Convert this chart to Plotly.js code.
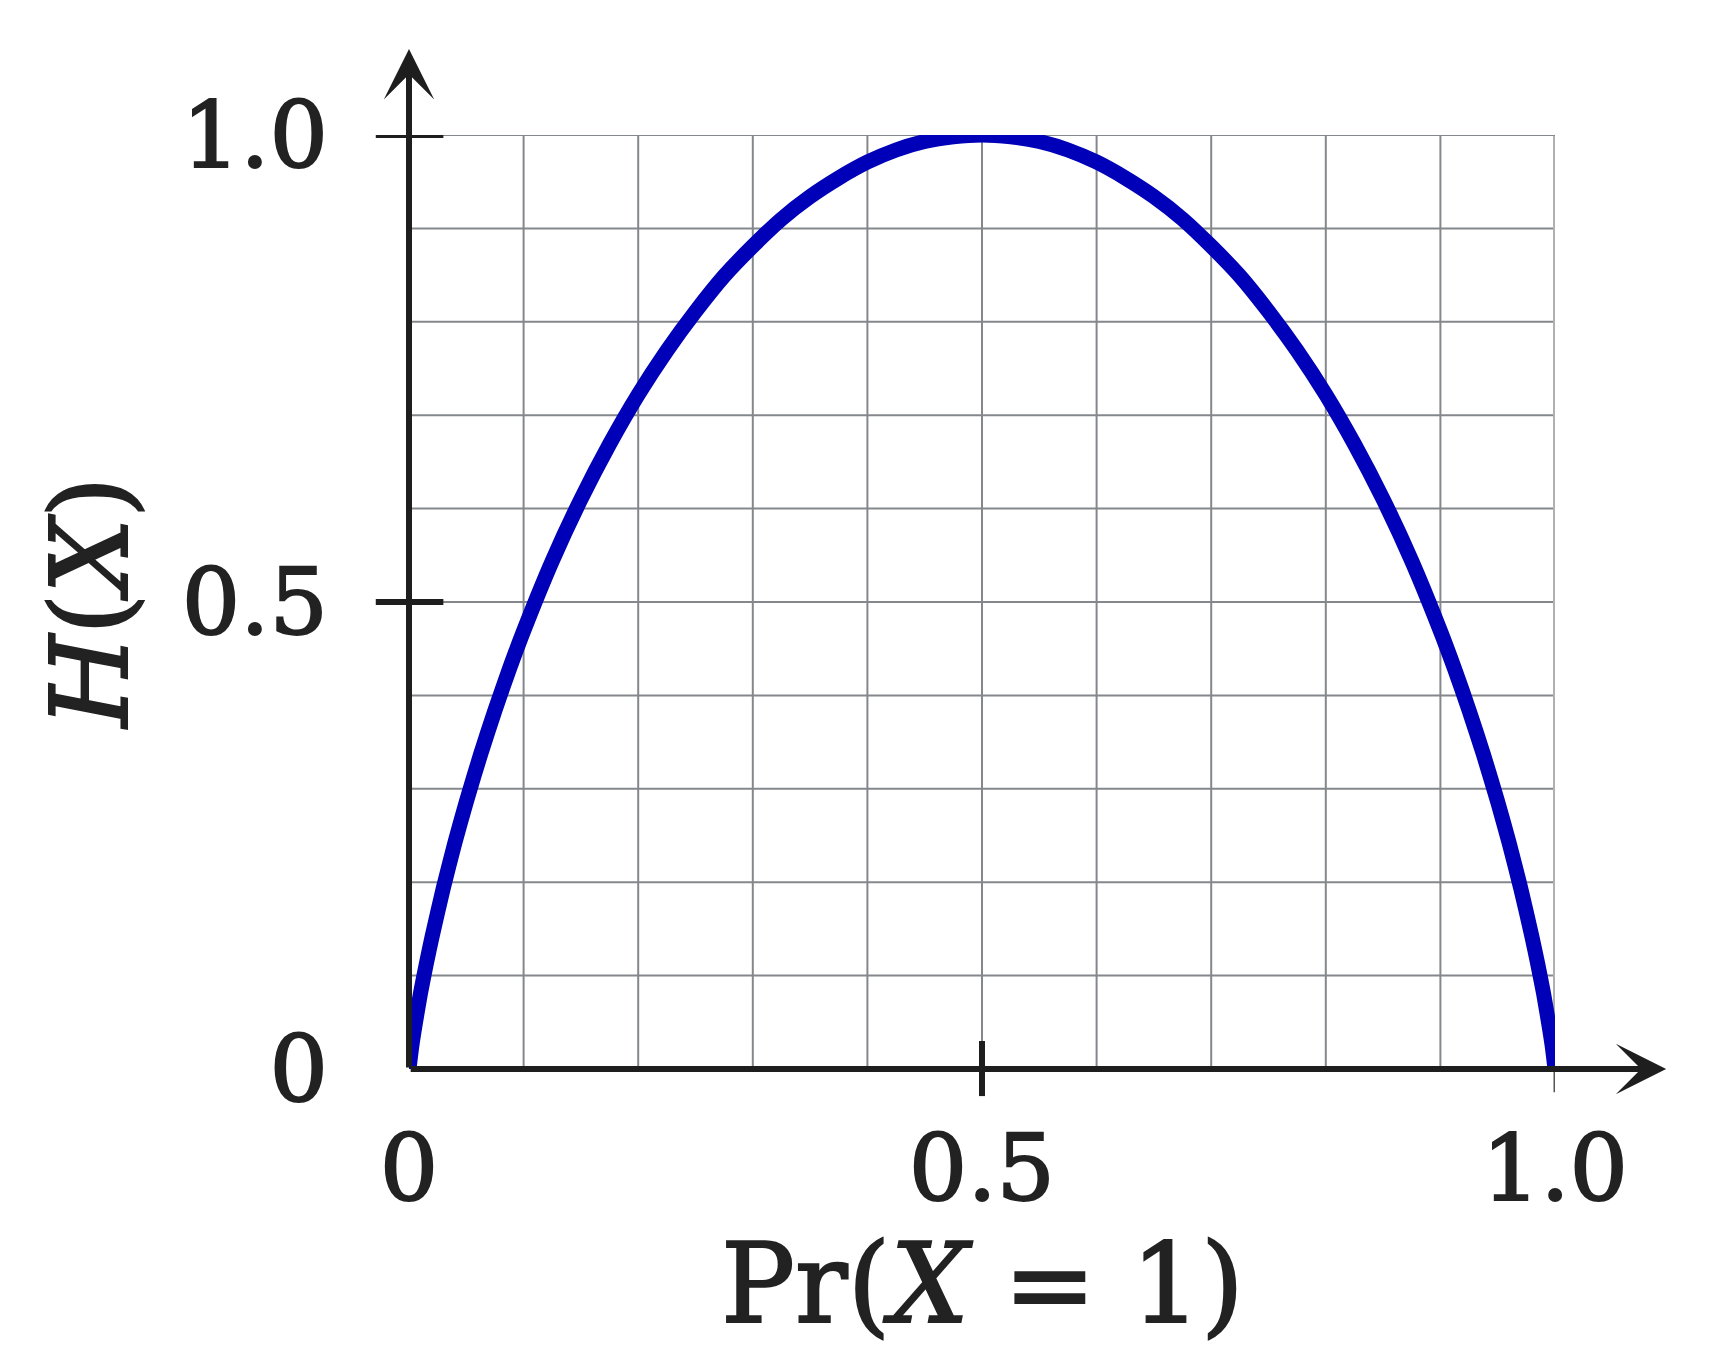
<!DOCTYPE html>
<html>
<head>
<meta charset="utf-8">
<script src="https://cdn.plot.ly/plotly-3.0.1.min.js"></script>
<style>
    html, body { margin: 0; padding: 0; background: #fff; }
    #grafico { width: 1719px; height: 1359px; }
    /* trazo extra para que el texto se vea algo más grueso, como en el original */
    #grafico svg text { stroke: #222; stroke-width: 2px; }
</style>
</head>
<body>
<div id="grafico"></div>
<script>
// Datos: Pr(X = 1) y H(X)
const prX = [0, 0.0025, 0.005, 0.01, 0.015, 0.02, 0.03, 0.04, 0.05, 0.0625, 0.075, 0.0875,
    0.1, 0.125, 0.15, 0.175, 0.2, 0.225, 0.25, 0.275, 0.3, 0.325, 0.35, 0.375, 0.4, 0.425, 0.45, 0.475,
    0.5, 0.525, 0.55, 0.575, 0.6, 0.625, 0.65, 0.675, 0.7, 0.725, 0.75, 0.775, 0.8, 0.825, 0.85, 0.875,
    0.9, 0.9125, 0.925, 0.9375, 0.95, 0.96, 0.97, 0.98, 0.985, 0.99, 0.995, 0.9975, 1];
const entropia = [0, 0.025, 0.045, 0.081, 0.112, 0.141, 0.194, 0.242, 0.286, 0.337, 0.384, 0.428,
    0.469, 0.544, 0.61, 0.669, 0.722, 0.769, 0.811, 0.849, 0.881, 0.91, 0.934, 0.954, 0.971, 0.984, 0.993, 0.998,
    1.0, 0.998, 0.993, 0.984, 0.971, 0.954, 0.934, 0.91, 0.881, 0.849, 0.811, 0.769, 0.722, 0.669, 0.61, 0.544,
    0.469, 0.428, 0.384, 0.337, 0.286, 0.242, 0.194, 0.141, 0.112, 0.081, 0.045, 0.025, 0];

const ticksX = [0, 0.5, 1];
const etiquetasX = ["0", "0.5", "1.0"];
const ticksY = [0, 0.5, 1];
const etiquetasY = ["0", "0.5", "1.0"];
const marcasX = [0.5];
const marcasY = [0.5, 1];
const lineasGrid = [0.1, 0.2, 0.3, 0.4, 0.5, 0.6, 0.7, 0.8, 0.9, 1.0];

const fuente = "DejaVu Serif, Liberation Serif, serif";
const colorEje = "#1e1e1e";
const colorGrid = "#84888c";

var trace = {
    x: prX,
    y: entropia,
    mode: 'lines',
    type: 'scatter',
    line: { color: '#0000b8', width: 15, shape: 'spline', smoothing: 0.6 },
    cliponaxis: false,
    hoverinfo: 'skip'
};

var shapes = [];

// cuadrícula cada 0.1
lineasGrid.forEach(v => {
    shapes.push({
        type: 'line', xref: 'x', yref: 'y', x0: v, x1: v, y0: 0, y1: 1,
        layer: 'below', line: { color: v === 1.0 ? '#b0b0b0' : colorGrid, width: v === 1.0 ? 4 : 2 }
    });
    shapes.push({
        type: 'line', xref: 'x', yref: 'y', x0: 0, x1: 1, y0: v, y1: v,
        layer: 'below', line: { color: colorGrid, width: 2 }
    });
});

// marcas cruzando los ejes
marcasY.forEach(v => shapes.push({
    type: 'line', xref: 'paper', yref: 'y',
    x0: -0.029, x1: 0.03, y0: v, y1: v,
    line: { color: colorEje, width: 6 }
}));
marcasX.forEach(v => shapes.push({
    type: 'line', xref: 'x', yref: 'paper',
    x0: v, x1: v, y0: 0.03, y1: -0.029,
    line: { color: colorEje, width: 6 }
}));
shapes.push({
    type: 'line', xref: 'x', yref: 'paper',
    x0: 1, x1: 1, y0: 0, y1: -0.025,
    line: { color: '#555', width: 3 }
});

// ejes con flecha y título del eje x
var annotations = [
    {
        xref: 'x', yref: 'paper', x: 0, y: 1.092,
        axref: 'pixel', ayref: 'pixel', ax: 0, ay: 1020,
        showarrow: true, arrowhead: 3, arrowsize: 1.4, arrowwidth: 6,
        arrowcolor: colorEje, text: ''
    },
    {
        xref: 'paper', yref: 'y', x: 1.097, y: 0,
        axref: 'pixel', ayref: 'pixel', ax: -1257, ay: 0,
        showarrow: true, arrowhead: 3, arrowsize: 1.4, arrowwidth: 6,
        arrowcolor: colorEje, text: ''
    },
    {
        xref: 'paper', yref: 'paper', x: 0.5, y: -0.23,
        xanchor: 'center', yanchor: 'middle', showarrow: false,
        text: 'Pr(<i>X</i> = 1)',
        font: { family: fuente, size: 110, color: '#222' }
    }
];

var layout = {
    width: 1719,
    height: 1359,
    margin: { l: 409, r: 164, t: 135, b: 290 },
    paper_bgcolor: '#ffffff',
    plot_bgcolor: '#ffffff',
    showlegend: false,
    font: { family: fuente, color: '#222', size: 90 },
    xaxis: {
        range: [0, 1],
        tickvals: ticksX,
        ticktext: etiquetasX,
        ticks: '',
        ticklabelstandoff: 38,
        showgrid: false,
        zeroline: false,
        showline: false,
        tickfont: { family: fuente, size: 92, color: '#222' }
    },
    yaxis: {
        range: [0, 1],
        tickvals: ticksY,
        ticktext: etiquetasY,
        ticks: '',
        ticklabelstandoff: 80,
        showgrid: false,
        zeroline: false,
        showline: false,
        tickfont: { family: fuente, size: 92, color: '#222' },
        title: { text: '<i>H</i>(<i>X</i>)', font: { family: fuente, size: 106, color: '#222' }, standoff: 18 }
    },
    shapes: shapes,
    annotations: annotations
};

Plotly.newPlot('grafico', [trace], layout, { displayModeBar: false, staticPlot: true });
</script>
</body>
</html>
